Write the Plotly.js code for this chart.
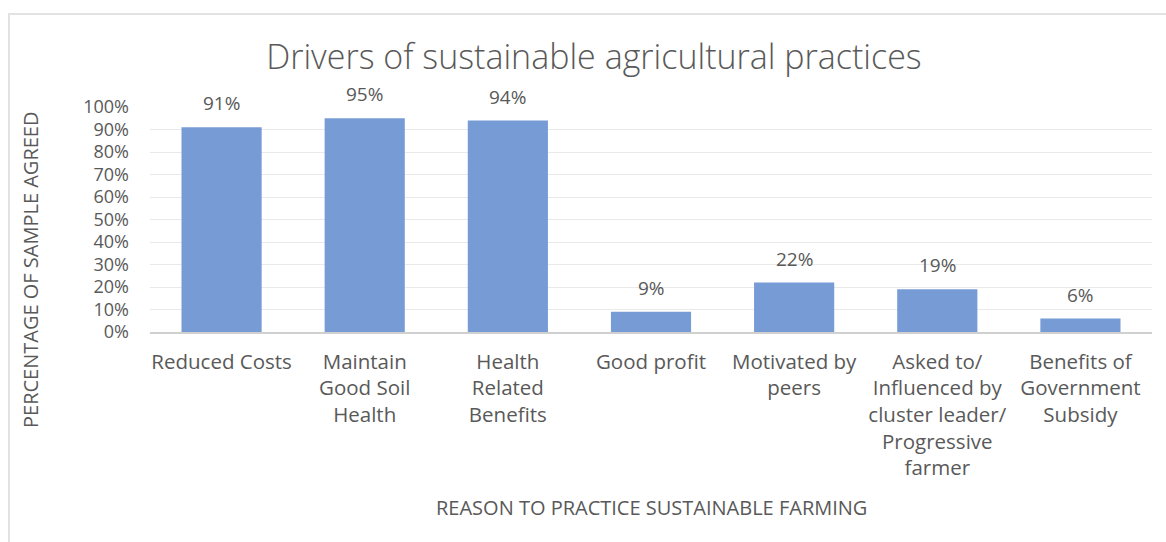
<!DOCTYPE html>
<html>
<head>
<meta charset="utf-8">
<script src="https://cdn.plot.ly/plotly-3.0.1.min.js"></script>
<style>
  html, body { margin: 0; padding: 0; background: #ffffff; }
  #wrap { position: relative; width: 1166px; height: 542px; overflow: hidden; }
  #chart { position: absolute; left: 0; top: 0; width: 1166px; height: 542px; }
  #frame { position: absolute; left: 8px; top: 13px; width: 1170px; height: 540px;
           border-top: 2px solid #e2e2e2; border-left: 2px solid #e2e2e2; pointer-events: none; }
</style>
</head>
<body>
<div id="wrap">
  <div id="chart"></div>
  <div id="frame"></div>
</div>
<script>
const categories = [
  "Reduced Costs",
  "Maintain<br>Good Soil<br>Health",
  "Health<br>Related<br>Benefits",
  "Good profit",
  "Motivated by<br>peers",
  "Asked to/<br>Influenced by<br>cluster leader/<br>Progressive<br>farmer",
  "Benefits of<br>Government<br>Subsidy"
];
const agreedShare = [0.91, 0.95, 0.94, 0.09, 0.22, 0.19, 0.06];
const valueLabels = ["91%", "95%", "94%", "9%", "22%", "19%", "6%"];
const chartTitle = "Drivers of sustainable agricultural practices";
const xTitle = "REASON TO PRACTICE SUSTAINABLE FARMING";
const yTitle = "PERCENTAGE OF SAMPLE AGREED";

const textColor = "#595959";
const fontFamily = "'Open Sans', 'Liberation Sans', sans-serif";

const trace = {
  type: "bar",
  x: categories,
  y: agreedShare,
  marker: { color: "#769bd5", line: { width: 0 } },
  hoverinfo: "skip"
};

const annotations = categories.map((c, i) => ({
  x: c,
  y: agreedShare[i],
  xref: "x",
  yref: "y",
  text: valueLabels[i],
  showarrow: false,
  yanchor: "bottom",
  yshift: 9,
  font: { family: fontFamily, size: 19, color: textColor }
}));

annotations.push({
  text: yTitle,
  xref: "paper", yref: "paper",
  x: (30 - 150) / 1002, y: (332 - 270) / 225,
  xanchor: "center", yanchor: "middle",
  textangle: -90,
  showarrow: false,
  font: { family: fontFamily, size: 20, color: textColor }
});

annotations.push({
  text: xTitle,
  xref: "paper", yref: "paper",
  x: 0.5, y: (332 - 507) / 225,
  xanchor: "center", yanchor: "middle",
  showarrow: false,
  font: { family: fontFamily, size: 20, color: textColor }
});

const layout = {
  width: 1166,
  height: 542,
  margin: { l: 150, r: 14, t: 107, b: 210 },
  paper_bgcolor: "rgba(0,0,0,0)",
  plot_bgcolor: "rgba(0,0,0,0)",
  bargap: 0.44,
  showlegend: false,
  title: {
    text: chartTitle,
    x: 0.5094,
    xref: "container",
    xanchor: "center",
    y: 1 - 57 / 542,
    yref: "container",
    yanchor: "middle",
    font: { family: fontFamily, size: 34, color: textColor, weight: 300 }
  },
  xaxis: {
    type: "category",
    showgrid: false,
    showline: true,
    linecolor: "#d0d0d0",
    linewidth: 2,
    ticks: "",
    ticklabelstandoff: 10,
    tickfont: { family: fontFamily, size: 20.5, color: textColor },
    tickangle: 0,
    fixedrange: true
  },
  yaxis: {
    range: [0, 1],
    dtick: 0.1,
    tick0: 0,
    tickformat: ".0%",
    showgrid: true,
    gridcolor: "#e9e9e9",
    gridwidth: 1,
    zeroline: false,
    showline: false,
    ticks: "",
    ticklabelstandoff: 20,
    tickfont: { family: fontFamily, size: 18, color: textColor },
    fixedrange: true
  },
  annotations: annotations
};

Plotly.newPlot("chart", [trace], layout, { displayModeBar: false, staticPlot: true });
</script>
</body>
</html>
